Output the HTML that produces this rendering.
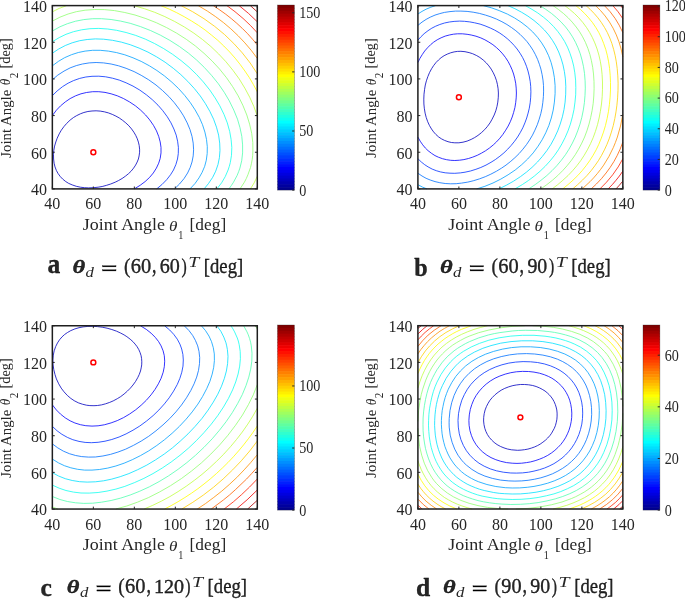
<!DOCTYPE html>
<html><head><meta charset="utf-8"><style>
html,body{margin:0;padding:0;background:#fff;}
body{width:685px;height:602px;overflow:hidden;}
svg{display:block;will-change:transform;}
text{font-family:"Liberation Serif",serif;fill:#262626;}
</style></head><body>
<svg width="685" height="602" viewBox="0 0 685 602">
<rect width="685" height="602" fill="#fff"/>
<g fill="none" stroke-width="0.8" stroke-linejoin="round"><path d="M84.5 187.7l-4.1-0.5 -4.1-0.9 -4.1-1.4 -3.5-1.5 -2.9-1.8 -3.1-2.5 -2.3-2.4 -2.3-3.1 -1.7-3.1 -1.4-3.6 -0.9-3.7 -0.5-4.2 -0.1-4.3 0.3-4.3 0.8-4.3 1.2-4.1 1.4-3.8 2-4.3 2.1-3.7 2.7-3.7 2.7-3.1 3.4-3.3 3.4-2.6 3.2-1.9 3.7-1.8 3.5-1.3 4-1 4.1-0.5 4.1-0.2 4.1 0.3 4.1 0.7 4.1 1.1 3.9 1.5 3.6 1.7 3.4 1.9 3.4 2.4 3.1 2.5 3.1 2.9 2.7 3.2 2.2 3.1 1.9 3.2 1.6 3.5 1.1 3.3 0.8 3.4 0.4 3.7 0 3 -0.5 3.7 -0.7 3.1 -1.2 3 -1.6 3.1 -2 3 -2.5 3.1 -2.5 2.4 -3.2 2.6 -3.3 2.3 -3.5 2 -3.4 1.7 -4.5 1.8 -4.4 1.4 -4.1 1.1 -4.1 0.7 -4.8 0.5 -4.7 0.2 -4.1-0.2" stroke="#0000bf"/>
<path d="M52.4 115.5l4-5.3 4.1-4.3 4.8-4 4.8-3.3 5.5-2.8 5.4-2 5.5-1.3 6.2-0.8 6.1 0 6.2 0.7 6.1 1.4 6.2 2 6.1 2.7 6.1 3.4 5.9 3.9 5.2 4.3 5 4.9 4.1 4.9 3.8 5.5 3 5.5 2.2 5.5 1.5 5.5 0.8 5.5 0 5.5 -0.8 5.5 -1.5 4.8 -2.3 4.9 -3.1 4.9 -3.6 4.3 -4.6 4.3 -4.8 3.6 -5.9 3.7" stroke="#0000ff"/>
<path d="M52.4 95.6l4.7-4.6 5.5-4.4 5.5-3.4 5.4-2.6 6.2-2.2 6.1-1.4 6.2-0.7 6.8-0.1 6.8 0.6 6.9 1.4 6.8 1.9 6.8 2.7 6.9 3.3 6.8 4 6.6 4.7 5.9 4.9 5.7 5.5 4.8 5.5 4.5 6.1 3.7 6.1 2.9 6.1 2.3 6.1 1.4 6.1 0.8 6.2 -0.1 6.1 -0.8 5.5 -1.6 5.5 -2.4 5.5 -3 4.8 -3.8 4.9 -4.8 4.9 -5.2 4.3" stroke="#0030ff"/>
<path d="M52.4 79.7l5.4-4.6 6.2-4 6.1-3.2 6.2-2.3 6.1-1.6 6.8-1.1 6.9-0.4 7.5 0.4 7.5 1.1 7.5 1.8 7.5 2.5 8 3.3 7.1 3.7 7.5 4.5 7.3 5.2 6.5 5.5 6.4 6.1 5.4 6.1 5.1 6.7 4.1 6.4 3.7 7.1 2.8 6.7 2 6.8 1.2 6.7 0.4 6.7 -0.4 6.1 -1.2 6.1 -1.8 5.5 -2.6 5.5 -3.5 5.5 -4.6 5.5 -5 4.9" stroke="#0070ff"/>
<path d="M52.4 65.8l6.1-4.5 6.1-3.6 6.9-3 6.8-2.2 6.8-1.4 7.6-0.8 7.5 0 8.2 0.8 8.2 1.5 8.2 2.2 8.2 3 8.2 3.6 8.2 4.4 7.5 4.7 7.5 5.4 7.5 6.3 6.8 6.5 6 6.7 5.6 7.2 4.8 7.3 4.2 7.5 3.2 7.3 2.4 7.4 1.6 7.3 0.8 7.3 -0.1 6.8 -0.9 6.7 -1.6 6.1 -2.6 6.1 -3.1 5.5 -3.9 5.5 -5.1 5.5" stroke="#009fff"/>
<path d="M52.4 53.2l6.1-4.1 6.8-3.6 6.9-2.7 7.5-2.1 7.5-1.2 8.2-0.6 8.2 0.3 8.9 1.1 8.8 1.8 8.9 2.6 8.9 3.4 8.9 4 8.7 4.8 8.4 5.3 8.2 6.1 7.5 6.3 7 6.8 6.6 7.2 5.9 7.4 5.1 7.6 4.4 7.7 3.8 7.9 2.9 8 2.1 7.9 1.1 8 0.3 7.3 -0.6 7.3 -1.4 6.8 -2.3 6.7 -3 6.1 -4.1 6.1 -4.5 5.5" stroke="#00dfff"/>
<path d="M52.4 41.7l6.8-4.1 6.8-3.3 7.5-2.6 8.2-1.9 8.2-1.1 8.9-0.3 8.9 0.6 8.9 1.3 9.5 2.2 9.6 2.9 9.6 3.7 9.2 4.4 9.2 5.1 8.9 5.7 8.5 6.3 7.9 6.6 7.5 7.2 6.8 7.5 6.4 8 5.4 8 4.7 7.9 4.2 8.6 3.3 8.5 2.4 8.6 1.4 7.9 0.7 8 -0.3 7.9 -1.2 7.3 -1 3.7 -1.2 3.7 -2.9 6.7 -3.6 6.1 -4.7 6.1" stroke="#10ffef"/>
<path d="M52.4 31.0l7.5-4.2 7.5-3.1 8.2-2.5 8.2-1.6 8.9-0.9 8.8 0 9.6 0.8 9.6 1.6 9.5 2.2 10.3 3.3 10.2 4 9.6 4.5 9.6 5.3 9.5 6.1 8.9 6.5 8.3 7 7.6 7.3 7.3 8 6.9 8.5 5.9 8.6 5 8.5 4.5 9.2 3.7 9.1 2.5 8.6 1.8 8.6 0.8 8.5 0 8 -0.9 7.9 -1.8 7.3 -1.3 3.7 -1.5 3.7 -3.6 6.7 -2.2 3.4 -2.4 3.3" stroke="#50ffaf"/>
<path d="M52.4 21.1l7.5-3.9 8.2-3.2 8.2-2.3 8.8-1.5 9.6-0.7 9.6 0.1 10.2 1 10.3 1.9 10.2 2.5 10.9 3.6 10.4 4.1 10.3 4.9 10.1 5.6 9.6 6.1 9 6.6 8.7 7.4 8.2 7.8 7.4 8 6.9 8.6 6.2 9 5.5 9.2 4.6 9.3 4 9.8 2.8 9.1 2.1 9.2 1.1 9.2 0.1 8.5 -0.2 4.3 -0.5 4.3 -0.8 4.2 -0.9 3.7 -2.6 7.3 -1.6 3.7 -1.9 3.7 -4.4 6.7" stroke="#8fff70"/>
<path d="M257.3 176.2l-3.1 6.6 -3.8 6.1M52.4 11.8l6.8-3.4 7.4-2.8M133.8 5.6l10.6 3.1 10.3 3.6 10.1 4.3 9.9 4.9 9.7 5.5 9.4 6.1 8.8 6.5 8.3 6.9 7.7 7.4 7.4 7.9 7 8.6 6.2 8.5 5.6 9.2 4.9 9.1 4.2 9.4 3.4 9.4" stroke="#bfff40"/>
<path d="M160.8 5.6l8.4 3.5 7.5 3.6 7.5 4 7.2 4.2 7.1 4.5 6.6 4.6 6.4 5.1 6.4 5.3 5.9 5.6 5.9 6 5.4 6.1 5.1 6.4 4.7 6.5 4.5 6.7 3.9 6.7 4 7.5" stroke="#ffff00"/>
<path d="M181.1 5.6l11.5 6.1 11.4 7 10.7 7.7 9.8 8.1 9.3 9 8.5 9.4 7.9 10.1 7.1 10.8" stroke="#ffcf00"/>
<path d="M198.2 5.6l9.2 5.5 8.1 5.5 8.1 6.1 7.2 6.1 7.4 7 6.7 7.1 6.3 7.4 6.1 8.1" stroke="#ff8f00"/>
<path d="M213.3 5.6l6.4 4.3 6 4.3 5.6 4.4 5.5 4.7 5.5 5.1 5.3 5.3 4.9 5.5 4.8 5.7" stroke="#ff6000"/>
<path d="M226.9 5.6l8.1 6.1 8 6.7 7.5 7.1 6.8 7.3" stroke="#ff2000"/>
<path d="M239.1 5.6l9.3 7.7 8.9 8.5" stroke="#ef0000"/>
<path d="M250.3 5.6l7 6.3" stroke="#af0000"/></g>
<circle cx="93.34" cy="152.24" r="2.45" fill="none" stroke="#ff0000" stroke-width="1.5"/>
<g stroke="#262626" stroke-width="1.0"><line x1="52.35" y1="188.90" x2="52.35" y2="186.50"/>
<line x1="52.35" y1="5.60" x2="52.35" y2="8.00"/>
<line x1="52.35" y1="188.90" x2="54.75" y2="188.90"/>
<line x1="257.30" y1="188.90" x2="254.90" y2="188.90"/>
<line x1="93.34" y1="188.90" x2="93.34" y2="186.50"/>
<line x1="93.34" y1="5.60" x2="93.34" y2="8.00"/>
<line x1="52.35" y1="152.24" x2="54.75" y2="152.24"/>
<line x1="257.30" y1="152.24" x2="254.90" y2="152.24"/>
<line x1="134.33" y1="188.90" x2="134.33" y2="186.50"/>
<line x1="134.33" y1="5.60" x2="134.33" y2="8.00"/>
<line x1="52.35" y1="115.58" x2="54.75" y2="115.58"/>
<line x1="257.30" y1="115.58" x2="254.90" y2="115.58"/>
<line x1="175.32" y1="188.90" x2="175.32" y2="186.50"/>
<line x1="175.32" y1="5.60" x2="175.32" y2="8.00"/>
<line x1="52.35" y1="78.92" x2="54.75" y2="78.92"/>
<line x1="257.30" y1="78.92" x2="254.90" y2="78.92"/>
<line x1="216.31" y1="188.90" x2="216.31" y2="186.50"/>
<line x1="216.31" y1="5.60" x2="216.31" y2="8.00"/>
<line x1="52.35" y1="42.26" x2="54.75" y2="42.26"/>
<line x1="257.30" y1="42.26" x2="254.90" y2="42.26"/>
<line x1="257.30" y1="188.90" x2="257.30" y2="186.50"/>
<line x1="257.30" y1="5.60" x2="257.30" y2="8.00"/>
<line x1="52.35" y1="5.60" x2="54.75" y2="5.60"/>
<line x1="257.30" y1="5.60" x2="254.90" y2="5.60"/>
<rect x="52.35" y="5.60" width="204.95" height="183.30" fill="none" stroke-width="1.5" stroke="#1e1e1e"/></g>
<g fill="#262626"><text x="52.35" y="209.40" font-size="16.00" text-anchor="middle" >40</text>
<text x="46.95" y="195.20" font-size="16.00" text-anchor="end" >40</text>
<text x="93.34" y="209.40" font-size="16.00" text-anchor="middle" >60</text>
<text x="46.95" y="158.54" font-size="16.00" text-anchor="end" >60</text>
<text x="134.33" y="209.40" font-size="16.00" text-anchor="middle" >80</text>
<text x="46.95" y="121.88" font-size="16.00" text-anchor="end" >80</text>
<text x="175.32" y="209.40" font-size="16.00" text-anchor="middle" >100</text>
<text x="46.95" y="85.22" font-size="16.00" text-anchor="end" >100</text>
<text x="216.31" y="209.40" font-size="16.00" text-anchor="middle" >120</text>
<text x="46.95" y="48.56" font-size="16.00" text-anchor="end" >120</text>
<text x="257.30" y="209.40" font-size="16.00" text-anchor="middle" >140</text>
<text x="46.95" y="11.90" font-size="16.00" text-anchor="end" >140</text></g>
<g fill="#262626"><rect x="277.50" y="5.000" width="16.90" height="3.492" fill="#800000"/>
<rect x="277.50" y="7.892" width="16.90" height="3.492" fill="#8f0000"/>
<rect x="277.50" y="10.784" width="16.90" height="3.492" fill="#9f0000"/>
<rect x="277.50" y="13.677" width="16.90" height="3.492" fill="#af0000"/>
<rect x="277.50" y="16.569" width="16.90" height="3.492" fill="#bf0000"/>
<rect x="277.50" y="19.461" width="16.90" height="3.492" fill="#cf0000"/>
<rect x="277.50" y="22.353" width="16.90" height="3.492" fill="#df0000"/>
<rect x="277.50" y="25.245" width="16.90" height="3.492" fill="#ef0000"/>
<rect x="277.50" y="28.137" width="16.90" height="3.492" fill="#ff0000"/>
<rect x="277.50" y="31.030" width="16.90" height="3.492" fill="#ff1000"/>
<rect x="277.50" y="33.922" width="16.90" height="3.492" fill="#ff2000"/>
<rect x="277.50" y="36.814" width="16.90" height="3.492" fill="#ff3000"/>
<rect x="277.50" y="39.706" width="16.90" height="3.492" fill="#ff4000"/>
<rect x="277.50" y="42.598" width="16.90" height="3.492" fill="#ff5000"/>
<rect x="277.50" y="45.491" width="16.90" height="3.492" fill="#ff6000"/>
<rect x="277.50" y="48.383" width="16.90" height="3.492" fill="#ff7000"/>
<rect x="277.50" y="51.275" width="16.90" height="3.492" fill="#ff8000"/>
<rect x="277.50" y="54.167" width="16.90" height="3.492" fill="#ff8f00"/>
<rect x="277.50" y="57.059" width="16.90" height="3.492" fill="#ff9f00"/>
<rect x="277.50" y="59.952" width="16.90" height="3.492" fill="#ffaf00"/>
<rect x="277.50" y="62.844" width="16.90" height="3.492" fill="#ffbf00"/>
<rect x="277.50" y="65.736" width="16.90" height="3.492" fill="#ffcf00"/>
<rect x="277.50" y="68.628" width="16.90" height="3.492" fill="#ffdf00"/>
<rect x="277.50" y="71.520" width="16.90" height="3.492" fill="#ffef00"/>
<rect x="277.50" y="74.412" width="16.90" height="3.492" fill="#ffff00"/>
<rect x="277.50" y="77.305" width="16.90" height="3.492" fill="#efff10"/>
<rect x="277.50" y="80.197" width="16.90" height="3.492" fill="#dfff20"/>
<rect x="277.50" y="83.089" width="16.90" height="3.492" fill="#cfff30"/>
<rect x="277.50" y="85.981" width="16.90" height="3.492" fill="#bfff40"/>
<rect x="277.50" y="88.873" width="16.90" height="3.492" fill="#afff50"/>
<rect x="277.50" y="91.766" width="16.90" height="3.492" fill="#9fff60"/>
<rect x="277.50" y="94.658" width="16.90" height="3.492" fill="#8fff70"/>
<rect x="277.50" y="97.550" width="16.90" height="3.492" fill="#80ff80"/>
<rect x="277.50" y="100.442" width="16.90" height="3.492" fill="#70ff8f"/>
<rect x="277.50" y="103.334" width="16.90" height="3.492" fill="#60ff9f"/>
<rect x="277.50" y="106.227" width="16.90" height="3.492" fill="#50ffaf"/>
<rect x="277.50" y="109.119" width="16.90" height="3.492" fill="#40ffbf"/>
<rect x="277.50" y="112.011" width="16.90" height="3.492" fill="#30ffcf"/>
<rect x="277.50" y="114.903" width="16.90" height="3.492" fill="#20ffdf"/>
<rect x="277.50" y="117.795" width="16.90" height="3.492" fill="#10ffef"/>
<rect x="277.50" y="120.688" width="16.90" height="3.492" fill="#00ffff"/>
<rect x="277.50" y="123.580" width="16.90" height="3.492" fill="#00efff"/>
<rect x="277.50" y="126.472" width="16.90" height="3.492" fill="#00dfff"/>
<rect x="277.50" y="129.364" width="16.90" height="3.492" fill="#00cfff"/>
<rect x="277.50" y="132.256" width="16.90" height="3.492" fill="#00bfff"/>
<rect x="277.50" y="135.148" width="16.90" height="3.492" fill="#00afff"/>
<rect x="277.50" y="138.041" width="16.90" height="3.492" fill="#009fff"/>
<rect x="277.50" y="140.933" width="16.90" height="3.492" fill="#008fff"/>
<rect x="277.50" y="143.825" width="16.90" height="3.492" fill="#0080ff"/>
<rect x="277.50" y="146.717" width="16.90" height="3.492" fill="#0070ff"/>
<rect x="277.50" y="149.609" width="16.90" height="3.492" fill="#0060ff"/>
<rect x="277.50" y="152.502" width="16.90" height="3.492" fill="#0050ff"/>
<rect x="277.50" y="155.394" width="16.90" height="3.492" fill="#0040ff"/>
<rect x="277.50" y="158.286" width="16.90" height="3.492" fill="#0030ff"/>
<rect x="277.50" y="161.178" width="16.90" height="3.492" fill="#0020ff"/>
<rect x="277.50" y="164.070" width="16.90" height="3.492" fill="#0010ff"/>
<rect x="277.50" y="166.963" width="16.90" height="3.492" fill="#0000ff"/>
<rect x="277.50" y="169.855" width="16.90" height="3.492" fill="#0000ef"/>
<rect x="277.50" y="172.747" width="16.90" height="3.492" fill="#0000df"/>
<rect x="277.50" y="175.639" width="16.90" height="3.492" fill="#0000cf"/>
<rect x="277.50" y="178.531" width="16.90" height="3.492" fill="#0000bf"/>
<rect x="277.50" y="181.423" width="16.90" height="3.492" fill="#0000af"/>
<rect x="277.50" y="184.316" width="16.90" height="3.492" fill="#00009f"/>
<rect x="277.50" y="187.208" width="16.90" height="2.892" fill="#00008f"/>
<rect x="277.50" y="5.00" width="16.90" height="185.10" fill="none" stroke="#262626" stroke-width="0.5" stroke-opacity="0.6"/>
<line x1="294.40" y1="190.10" x2="292.20" y2="190.10" stroke="#262626" stroke-width="1"/>
<text transform="translate(299.20,195.50) scale(0.9,1)" font-size="15.7">0</text>
<line x1="294.40" y1="131.00" x2="292.20" y2="131.00" stroke="#262626" stroke-width="1"/>
<text transform="translate(299.20,136.40) scale(0.9,1)" font-size="15.7">50</text>
<line x1="294.40" y1="71.90" x2="292.20" y2="71.90" stroke="#262626" stroke-width="1"/>
<text transform="translate(299.20,77.30) scale(0.9,1)" font-size="15.7">100</text>
<line x1="294.40" y1="12.80" x2="292.20" y2="12.80" stroke="#262626" stroke-width="1"/>
<text transform="translate(299.20,18.20) scale(0.9,1)" font-size="15.7">150</text></g>
<g fill="none" stroke-width="0.8" stroke-linejoin="round"><path d="M451.4 142.5l-3.4-0.8 -3.5-1.3 -3.1-1.6 -2.7-1.8 -2.8-2.5 -2.3-2.6 -2.1-2.9 -2.1-3.6 -1.7-3.7 -1.5-4.3 -1.1-4.3 -0.8-4.9 -0.4-4.2 -0.1-4.9 0.2-4.9 0.6-4.9 0.7-4.3 1.1-4.2 1.5-4.3 1.6-3.9 2.1-3.9 2-3.1 2.5-3.2 2.4-2.4 2.6-2.3 3-2 3.2-1.6 3.4-1.3 3.4-0.9 3.4-0.5 3.4-0.1 4.1 0.4 4.1 0.9 3.5 1.1 4.1 1.9 3.2 1.9 3.3 2.5 3 2.8 2.7 3.1 2.3 3.2 2.1 3.7 1.7 3.7 1.5 4.2 0.9 3.7 0.7 4.3 0.3 4.3 -0.1 4.2 -0.5 4.9 -0.8 4.3 -1.2 4.4 -1.6 4.2 -2.1 4.2 -2.1 3.7 -2.7 3.7 -2.6 3 -3.3 3.1 -3.4 2.7 -3.4 2.2 -3.4 1.8 -4.1 1.7 -4.1 1.1 -4.1 0.6 -4.1 0 -3.4-0.3" stroke="#0000bf"/>
<path d="M417.9 62.5l2-4.1 2.4-3.9 2.4-3.5 2.8-3.2 3.1-3.1 3-2.5 3.6-2.4 3.9-2 4.1-1.7 4.1-1.1 4.1-0.8 4.1-0.4 4.8 0 4.8 0.5 4.1 0.7 4.8 1.2 4.8 1.7 4.1 1.9 4 2.3 4 2.6 3.6 2.9 3.4 3.2 2.8 3.1 2.8 3.6 2.6 4 2.1 4 1.9 4.3 1.5 4.2 1.1 4.3 1 4.9 0.5 4.9 0.2 4.9 -0.2 4.9 -0.5 4.8 -0.8 4.9 -1.3 4.9 -1.4 4.5 -1.9 4.7 -2.1 4.3 -2.5 4.2 -2.9 4.3 -2.9 3.7 -3.4 3.7 -3.2 3 -3.8 3.1 -4 2.8 -4.1 2.4 -4.1 2.1 -4.5 1.8 -4.3 1.4 -4.6 1.1 -4.3 0.6 -4.8 0.3 -4.1-0.2 -4.1-0.6 -4.1-1 -4.1-1.5 -3.4-1.6 -3.4-2.2 -3.5-2.7 -2.7-2.6 -2.7-3.3 -2.5-3.6 -2.3-4.1" stroke="#0000ff"/>
<path d="M417.9 40.2l3-3.4 3.2-3.1 3.9-3 3.8-2.5 3.9-2 4.1-1.7 4.7-1.5 4.8-1 4.8-0.6 5.5-0.3 4.8 0.2 5.4 0.6 4.8 0.9 5.5 1.3 4.9 1.7 5.3 2.2 4.2 2 4.7 2.7 4.1 2.8 3.9 3.1 3.6 3.3 3.4 3.6 2.9 3.5 3 4.3 2.5 4.2 2.1 4.3 1.8 4.5 1.5 4.7 1.2 4.9 1 5.5 0.5 4.9 0.2 5.5 -0.2 5.4 -0.5 5.5 -0.9 5.5 -1.2 4.9 -1.4 4.9 -1.8 4.9 -2.1 4.9 -2.6 4.9 -2.6 4.3 -3 4.2 -3.5 4.3 -3.4 3.7 -3.8 3.7 -4 3.3 -4.6 3.4 -4.3 2.7 -5 2.8 -5.2 2.4 -4.9 1.8 -5.4 1.7 -5.5 1.2 -4.7 0.7 -5.5 0.4 -4.8-0.1 -4.8-0.4 -4.8-0.9 -4.1-1.2 -4.1-1.6 -4.1-2.2 -3.4-2.2 -3.4-2.7 -3.4-3.3" stroke="#0030ff"/>
<path d="M417.9 25.4l4.1-3.3 4.1-2.7 4.1-2.2 4.8-2.1 4.8-1.5 4.7-1.2 5.5-0.8 5.5-0.5 5.4 0 6.2 0.3 6.1 0.8 6.2 1.2 6.1 1.7 5.5 1.8 5.5 2.2 5.4 2.6 5 2.8 4.7 3.1 4.2 3.1 4.2 3.6 3.7 3.7 3.3 3.6 3.2 4.3 2.8 4.3 2.4 4.4 2.2 4.8 1.8 4.9 1.5 4.8 1.2 5.5 0.9 5.5 0.5 5.5 0.1 5.5 -0.2 5.5 -0.6 6.1 -0.8 5.5 -1.2 5.5 -1.6 5.5 -1.9 5.5 -2.4 5.5 -2.4 4.9 -2.9 4.9 -3.1 4.6 -3.6 4.6 -3.7 4.3 -4.3 4.2 -4.1 3.6 -4.8 3.8 -4.4 3 -5.1 3.1 -5.7 3 -5.5 2.5 -5.9 2.2 -6.2 1.9 -5.4 1.3 -6.2 1 -5.4 0.6 -5.5 0.1 -5.5-0.3 -5.4-0.8 -4.8-1.1 -4.8-1.6 -4.1-1.7 -4.1-2.3 -4.1-2.8" stroke="#0070ff"/>
<path d="M426.9 188.9l-4.4-1.8 -4.6-2.4M417.9 14.0l4.1-2.6 4.1-2.2 4.8-2 4.7-1.6M483.3 5.6l8.4 2.3 7.5 2.7 8.2 3.5 6.9 3.7 6.7 4.3 6.2 4.8 5.5 5 4.9 5.5 4.1 5.5 3.7 6.1 3.2 6.7 2.5 6.8 1.9 7.3 1.4 7.9 0.7 7.9 0 8 -0.7 8.5 -1.2 8 -1.9 7.9 -2.4 7.4 -3.1 7.3 -3.6 7 -4.1 6.5 -4.9 6.7 -5.5 6.1 -6 5.7 -6.5 5.3 -7.1 4.8 -7.3 4.3 -7.8 3.9 -8.1 3.3 -8.2 2.6" stroke="#009fff"/>
<path d="M508.0 5.6l6.9 3.1 6.8 3.6 6.2 3.8 6.1 4.4 5.5 4.7 4.9 4.8 4.2 4.9 3.9 5.5 3.3 5.5 2.9 6.1 2.3 6.1 2 6.8 1.4 6.7 1 7.3 0.4 7.4 -0.1 7.9 -0.6 7.9 -1.1 7.4 -1.6 7.3 -2.2 7.3 -2.5 6.8 -3.2 6.9 -3.5 6.5 -4 6.1 -4.7 6.1 -4.8 5.5 -5.5 5.4 -5.5 4.7 -6.1 4.6 -6.9 4.5 -7.1 4 -7.4 3.7" stroke="#00dfff"/>
<path d="M525.3 5.6l6.6 3.7 5.8 3.6 5.8 4.3 5.1 4.3 4.9 4.9 4.2 4.9 3.6 4.9 3.4 5.4 2.8 5.5 2.5 6.2 2 6.1 1.7 6.7 1.1 6.7 0.8 7.3 0.2 7.4 -0.1 7.3 -0.7 7.3 -1 7.4 -1.6 7.3 -2 7.3 -2.4 6.8 -2.9 6.7 -3.1 6.1 -3.6 6.1 -3.8 5.5 -4.4 5.5 -5 5.5 -5.1 4.9 -5.8 4.9 -5.7 4.3 -6.3 4.2 -7.3 4.3" stroke="#10ffef"/>
<path d="M539.9 5.6l5.8 3.7 5.9 4.2 5.1 4.3 4.5 4.3 4.4 4.9 3.7 4.9 3.2 4.9 3 5.5 2.5 5.5 2.3 6.1 1.7 6.1 1.5 6.7 1 6.7 0.6 7.4 0.2 7.3 -0.3 7.3 -0.6 7.3 -1.1 7.4 -1.5 7.3 -1.8 6.7 -2.3 6.8 -2.4 6.1 -2.9 6.1 -3.4 6.1 -3.5 5.5 -4.1 5.5 -4.6 5.5 -4.7 4.9 -5.2 4.9 -5.9 4.8 -5.8 4.3 -6.5 4.3" stroke="#50ffaf"/>
<path d="M553.0 5.6l5.2 3.7 5.3 4.2 4.7 4.3 4 4.3 4 4.9 3.5 4.9 2.9 4.9 2.8 5.5 2.5 6.1 2 6.1 1.5 6.1 1.3 6.7 0.8 6.7 0.5 7.4 0.1 7.3 -0.3 7.3 -0.6 7.4 -1.1 7.2 -1.4 6.8 -1.7 6.7 -2.1 6.8 -2.3 6.1 -2.8 6.1 -3.2 6.1 -3.3 5.5 -3.8 5.5 -4.4 5.5 -4.4 4.9 -4.9 4.9 -5.3 4.7 -5.6 4.4 -6 4.3" stroke="#8fff70"/>
<path d="M564.8 5.6l4.8 3.7 4.9 4.2 4.3 4.3 4.2 4.9 3.6 4.9 3.1 4.9 2.6 4.9 2.5 5.5 2.3 6.1 1.8 6.1 1.4 6.1 1.1 6.7 0.7 6.7 0.4 7.4 0 7.3 -0.3 7.3 -0.7 7.4 -1.1 7.3 -1.3 6.7 -1.6 6.7 -2.1 6.8 -2.2 6.1 -2.7 6.1 -3.1 6.1 -3.2 5.5 -3.6 5.5 -3.7 4.9 -4.2 4.9 -4.6 4.9 -5.3 4.8 -5 4.3 -5.6 4.3" stroke="#bfff40"/>
<path d="M575.8 5.6l4.7 3.9 4.2 4 4 4.4 3.9 4.8 3.3 4.9 2.9 4.9 2.7 5.5 2.2 5.5 2.1 6.1 1.6 6.1 1.2 6.1 1 6.7 0.6 6.8 0.3 7.3 0 7.3 -0.4 7.3 -0.7 7.4 -0.9 6.7 -1.4 7.3 -1.6 6.8 -2 6.7 -2.2 6.1 -2.5 6.1 -2.6 5.5 -3.1 5.5 -3.5 5.5 -3.5 4.9 -3.9 4.9 -4.4 4.9 -4.8 4.7 -5 4.4 -5.3 4.3" stroke="#ffff00"/>
<path d="M586.0 5.6l4.1 3.7 4.1 4.2 3.7 4.3 3.6 4.9 3.1 4.9 2.7 4.9 2.5 5.5 2.1 5.5 1.8 6.1 1.5 6.1 1.1 6.1 0.9 6.7 0.6 7.4 0.3 7.3 -0.1 7.3 -0.4 7.4 -0.7 7.3 -0.9 6.7 -1.2 6.7 -1.5 6.8 -1.9 6.7 -2 6.1 -2.4 6.1 -2.6 5.6 -2.8 5.4 -3.3 5.5 -3.4 4.9 -3.7 4.9 -4.2 4.9 -4.5 4.6 -4.8 4.5 -5 4.3" stroke="#ffcf00"/>
<path d="M622.8 114.6l-2.3 11.4 -3.1 11 -2 5.5 -2 4.9 -4.5 9.1 -5.2 8.6 -3 4.2 -3.4 4.3 -3.7 4.3 -3.5 3.7 -7.9 7.3M595.5 5.6l5 4.9 4.7 5.5 4.3 6.1 3.6 6.1 3.2 6.7 2.6 6.7 2.2 7.4 1.7 7.9" stroke="#ff8f00"/>
<path d="M622.8 142.2l-2.7 7 -2.8 6.1 -3.3 6.1 -3.9 6.1 -4 5.5 -4.5 5.5 -5.2 5.5 -5.2 4.9M604.4 5.6l5.7 6.1 5 6.7 4.1 6.8 3.6 7.4" stroke="#ff6000"/>
<path d="M622.8 158.8l-4.6 8.1 -5.5 7.9 -6.2 7.4 -6.6 6.7M612.8 5.6l5.3 6.2 4.7 6.8" stroke="#ff2000"/>
<path d="M622.8 171.1l-3.4 4.9 -3.4 4.3 -3.7 4.3 -4.2 4.3M620.6 5.6l2.2 2.7" stroke="#ef0000"/>
<path d="M622.8 181.1l-3.4 4.1 -3.4 3.7" stroke="#af0000"/></g>
<circle cx="458.89" cy="97.25" r="2.45" fill="none" stroke="#ff0000" stroke-width="1.5"/>
<g stroke="#262626" stroke-width="1.0"><line x1="417.90" y1="188.90" x2="417.90" y2="186.50"/>
<line x1="417.90" y1="5.60" x2="417.90" y2="8.00"/>
<line x1="417.90" y1="188.90" x2="420.30" y2="188.90"/>
<line x1="622.85" y1="188.90" x2="620.45" y2="188.90"/>
<line x1="458.89" y1="188.90" x2="458.89" y2="186.50"/>
<line x1="458.89" y1="5.60" x2="458.89" y2="8.00"/>
<line x1="417.90" y1="152.24" x2="420.30" y2="152.24"/>
<line x1="622.85" y1="152.24" x2="620.45" y2="152.24"/>
<line x1="499.88" y1="188.90" x2="499.88" y2="186.50"/>
<line x1="499.88" y1="5.60" x2="499.88" y2="8.00"/>
<line x1="417.90" y1="115.58" x2="420.30" y2="115.58"/>
<line x1="622.85" y1="115.58" x2="620.45" y2="115.58"/>
<line x1="540.87" y1="188.90" x2="540.87" y2="186.50"/>
<line x1="540.87" y1="5.60" x2="540.87" y2="8.00"/>
<line x1="417.90" y1="78.92" x2="420.30" y2="78.92"/>
<line x1="622.85" y1="78.92" x2="620.45" y2="78.92"/>
<line x1="581.86" y1="188.90" x2="581.86" y2="186.50"/>
<line x1="581.86" y1="5.60" x2="581.86" y2="8.00"/>
<line x1="417.90" y1="42.26" x2="420.30" y2="42.26"/>
<line x1="622.85" y1="42.26" x2="620.45" y2="42.26"/>
<line x1="622.85" y1="188.90" x2="622.85" y2="186.50"/>
<line x1="622.85" y1="5.60" x2="622.85" y2="8.00"/>
<line x1="417.90" y1="5.60" x2="420.30" y2="5.60"/>
<line x1="622.85" y1="5.60" x2="620.45" y2="5.60"/>
<rect x="417.90" y="5.60" width="204.95" height="183.30" fill="none" stroke-width="1.5" stroke="#1e1e1e"/></g>
<g fill="#262626"><text x="417.90" y="209.40" font-size="16.00" text-anchor="middle" >40</text>
<text x="412.50" y="195.20" font-size="16.00" text-anchor="end" >40</text>
<text x="458.89" y="209.40" font-size="16.00" text-anchor="middle" >60</text>
<text x="412.50" y="158.54" font-size="16.00" text-anchor="end" >60</text>
<text x="499.88" y="209.40" font-size="16.00" text-anchor="middle" >80</text>
<text x="412.50" y="121.88" font-size="16.00" text-anchor="end" >80</text>
<text x="540.87" y="209.40" font-size="16.00" text-anchor="middle" >100</text>
<text x="412.50" y="85.22" font-size="16.00" text-anchor="end" >100</text>
<text x="581.86" y="209.40" font-size="16.00" text-anchor="middle" >120</text>
<text x="412.50" y="48.56" font-size="16.00" text-anchor="end" >120</text>
<text x="622.85" y="209.40" font-size="16.00" text-anchor="middle" >140</text>
<text x="412.50" y="11.90" font-size="16.00" text-anchor="end" >140</text></g>
<g fill="#262626"><rect x="643.00" y="5.000" width="16.90" height="3.492" fill="#800000"/>
<rect x="643.00" y="7.892" width="16.90" height="3.492" fill="#8f0000"/>
<rect x="643.00" y="10.784" width="16.90" height="3.492" fill="#9f0000"/>
<rect x="643.00" y="13.677" width="16.90" height="3.492" fill="#af0000"/>
<rect x="643.00" y="16.569" width="16.90" height="3.492" fill="#bf0000"/>
<rect x="643.00" y="19.461" width="16.90" height="3.492" fill="#cf0000"/>
<rect x="643.00" y="22.353" width="16.90" height="3.492" fill="#df0000"/>
<rect x="643.00" y="25.245" width="16.90" height="3.492" fill="#ef0000"/>
<rect x="643.00" y="28.137" width="16.90" height="3.492" fill="#ff0000"/>
<rect x="643.00" y="31.030" width="16.90" height="3.492" fill="#ff1000"/>
<rect x="643.00" y="33.922" width="16.90" height="3.492" fill="#ff2000"/>
<rect x="643.00" y="36.814" width="16.90" height="3.492" fill="#ff3000"/>
<rect x="643.00" y="39.706" width="16.90" height="3.492" fill="#ff4000"/>
<rect x="643.00" y="42.598" width="16.90" height="3.492" fill="#ff5000"/>
<rect x="643.00" y="45.491" width="16.90" height="3.492" fill="#ff6000"/>
<rect x="643.00" y="48.383" width="16.90" height="3.492" fill="#ff7000"/>
<rect x="643.00" y="51.275" width="16.90" height="3.492" fill="#ff8000"/>
<rect x="643.00" y="54.167" width="16.90" height="3.492" fill="#ff8f00"/>
<rect x="643.00" y="57.059" width="16.90" height="3.492" fill="#ff9f00"/>
<rect x="643.00" y="59.952" width="16.90" height="3.492" fill="#ffaf00"/>
<rect x="643.00" y="62.844" width="16.90" height="3.492" fill="#ffbf00"/>
<rect x="643.00" y="65.736" width="16.90" height="3.492" fill="#ffcf00"/>
<rect x="643.00" y="68.628" width="16.90" height="3.492" fill="#ffdf00"/>
<rect x="643.00" y="71.520" width="16.90" height="3.492" fill="#ffef00"/>
<rect x="643.00" y="74.412" width="16.90" height="3.492" fill="#ffff00"/>
<rect x="643.00" y="77.305" width="16.90" height="3.492" fill="#efff10"/>
<rect x="643.00" y="80.197" width="16.90" height="3.492" fill="#dfff20"/>
<rect x="643.00" y="83.089" width="16.90" height="3.492" fill="#cfff30"/>
<rect x="643.00" y="85.981" width="16.90" height="3.492" fill="#bfff40"/>
<rect x="643.00" y="88.873" width="16.90" height="3.492" fill="#afff50"/>
<rect x="643.00" y="91.766" width="16.90" height="3.492" fill="#9fff60"/>
<rect x="643.00" y="94.658" width="16.90" height="3.492" fill="#8fff70"/>
<rect x="643.00" y="97.550" width="16.90" height="3.492" fill="#80ff80"/>
<rect x="643.00" y="100.442" width="16.90" height="3.492" fill="#70ff8f"/>
<rect x="643.00" y="103.334" width="16.90" height="3.492" fill="#60ff9f"/>
<rect x="643.00" y="106.227" width="16.90" height="3.492" fill="#50ffaf"/>
<rect x="643.00" y="109.119" width="16.90" height="3.492" fill="#40ffbf"/>
<rect x="643.00" y="112.011" width="16.90" height="3.492" fill="#30ffcf"/>
<rect x="643.00" y="114.903" width="16.90" height="3.492" fill="#20ffdf"/>
<rect x="643.00" y="117.795" width="16.90" height="3.492" fill="#10ffef"/>
<rect x="643.00" y="120.688" width="16.90" height="3.492" fill="#00ffff"/>
<rect x="643.00" y="123.580" width="16.90" height="3.492" fill="#00efff"/>
<rect x="643.00" y="126.472" width="16.90" height="3.492" fill="#00dfff"/>
<rect x="643.00" y="129.364" width="16.90" height="3.492" fill="#00cfff"/>
<rect x="643.00" y="132.256" width="16.90" height="3.492" fill="#00bfff"/>
<rect x="643.00" y="135.148" width="16.90" height="3.492" fill="#00afff"/>
<rect x="643.00" y="138.041" width="16.90" height="3.492" fill="#009fff"/>
<rect x="643.00" y="140.933" width="16.90" height="3.492" fill="#008fff"/>
<rect x="643.00" y="143.825" width="16.90" height="3.492" fill="#0080ff"/>
<rect x="643.00" y="146.717" width="16.90" height="3.492" fill="#0070ff"/>
<rect x="643.00" y="149.609" width="16.90" height="3.492" fill="#0060ff"/>
<rect x="643.00" y="152.502" width="16.90" height="3.492" fill="#0050ff"/>
<rect x="643.00" y="155.394" width="16.90" height="3.492" fill="#0040ff"/>
<rect x="643.00" y="158.286" width="16.90" height="3.492" fill="#0030ff"/>
<rect x="643.00" y="161.178" width="16.90" height="3.492" fill="#0020ff"/>
<rect x="643.00" y="164.070" width="16.90" height="3.492" fill="#0010ff"/>
<rect x="643.00" y="166.963" width="16.90" height="3.492" fill="#0000ff"/>
<rect x="643.00" y="169.855" width="16.90" height="3.492" fill="#0000ef"/>
<rect x="643.00" y="172.747" width="16.90" height="3.492" fill="#0000df"/>
<rect x="643.00" y="175.639" width="16.90" height="3.492" fill="#0000cf"/>
<rect x="643.00" y="178.531" width="16.90" height="3.492" fill="#0000bf"/>
<rect x="643.00" y="181.423" width="16.90" height="3.492" fill="#0000af"/>
<rect x="643.00" y="184.316" width="16.90" height="3.492" fill="#00009f"/>
<rect x="643.00" y="187.208" width="16.90" height="2.892" fill="#00008f"/>
<rect x="643.00" y="5.00" width="16.90" height="185.10" fill="none" stroke="#262626" stroke-width="0.5" stroke-opacity="0.6"/>
<line x1="659.90" y1="190.10" x2="657.70" y2="190.10" stroke="#262626" stroke-width="1"/>
<text transform="translate(664.70,195.50) scale(0.9,1)" font-size="15.7">0</text>
<line x1="659.90" y1="159.43" x2="657.70" y2="159.43" stroke="#262626" stroke-width="1"/>
<text transform="translate(664.70,164.83) scale(0.9,1)" font-size="15.7">20</text>
<line x1="659.90" y1="128.76" x2="657.70" y2="128.76" stroke="#262626" stroke-width="1"/>
<text transform="translate(664.70,134.16) scale(0.9,1)" font-size="15.7">40</text>
<line x1="659.90" y1="98.09" x2="657.70" y2="98.09" stroke="#262626" stroke-width="1"/>
<text transform="translate(664.70,103.49) scale(0.9,1)" font-size="15.7">60</text>
<line x1="659.90" y1="67.42" x2="657.70" y2="67.42" stroke="#262626" stroke-width="1"/>
<text transform="translate(664.70,72.82) scale(0.9,1)" font-size="15.7">80</text>
<line x1="659.90" y1="36.74" x2="657.70" y2="36.74" stroke="#262626" stroke-width="1"/>
<text transform="translate(664.70,42.14) scale(0.9,1)" font-size="15.7">100</text>
<line x1="659.90" y1="6.07" x2="657.70" y2="6.07" stroke="#262626" stroke-width="1"/>
<text transform="translate(664.70,11.47) scale(0.9,1)" font-size="15.7">120</text></g>
<g fill="none" stroke-width="0.8" stroke-linejoin="round"><path d="M86.5 405.2l-4.1-1 -4.1-1.4 -4.1-2.1 -3.4-2.3 -3.5-3 -3.3-3.6 -2.8-3.7 -2.5-4.3 -2.3-4.9 -1.4-4.3 -1.2-4.9 -0.7-4.8 -0.2-4.9 0.4-4.9 0.9-4.3 1.5-4.3 1.8-3.6 2-3.1 2.4-2.8 2.7-2.5 2.9-2 3.3-1.9 4.1-1.7 4.1-1.2 4.1-0.8 4.8-0.5 4.8-0.1 4.7 0.3 4.8 0.6 4.9 1 4.7 1.3 4.8 1.7 4.1 1.9 3.4 1.8 2.8 1.8 3.3 2.5 2.7 2.4 2.2 2.5 2 2.6 1.7 2.9 1.3 3 1 3.1 0.5 3 0.2 3.1 -0.1 3.1 -0.5 3 -0.7 3.1 -1.3 3.6 -1.5 3.1 -2.1 3.7 -2.6 3.6 -2.6 3.1 -3 3 -3.3 2.9 -3.4 2.6 -3.4 2.1 -4.1 2.2 -3.5 1.5 -4.1 1.4 -4.1 1.1 -4.1 0.6 -3.4 0.2 -4.1-0.1 -3.4-0.4" stroke="#0000bf"/>
<path d="M140.5 325.8l5.8 3.6 4.7 3.7 4.3 4.3 3.3 4.2 2.5 4.3 2 4.9 1.2 4.9 0.4 5.5 -0.4 5.5 -1.1 5.5 -2.1 6.1 -2.7 5.5 -3.3 5.5 -4 5.5 -4.8 5.5 -5.1 4.9 -5.5 4.6 -6.2 4.3 -6.1 3.6 -6.1 2.9 -6.2 2.3 -6.8 1.9 -6.2 1 -6.1 0.3 -6.2-0.4 -5.4-1 -5.5-1.7 -4.8-2.2 -4.8-2.9 -4.8-3.8 -4.1-4.1 -4-5.1" stroke="#0000ff"/>
<path d="M164.6 325.8l5.1 4.2 4 4.3 3.6 4.9 2.6 4.9 1.8 4.9 1.2 5.5 0.4 5.5 -0.3 6.1 -1.2 6.1 -1.9 6.1 -2.6 6.1 -3.7 6.7 -4.4 6.7 -4.8 6.1 -5.5 6.1 -5.8 5.6 -6.5 5.4 -6.8 5 -6.8 4.2 -6.9 3.7 -7 3.1 -7.3 2.5 -6.8 1.7 -6.9 1.1 -6.8 0.4 -6.2-0.3 -6.1-1 -6.2-1.7 -5.4-2.3 -5.5-3.1 -4.8-3.5 -4.7-4.4" stroke="#0030ff"/>
<path d="M184.3 325.8l4.7 4.8 3.7 4.9 2.7 4.9 2.3 5.5 1.3 5.5 0.7 6.1 -0.2 6.1 -1 6.8 -1.8 6.7 -2.6 6.7 -3.3 6.7 -4.3 7.3 -5 7.2 -5.6 6.9 -6.2 6.7 -6.7 6.3 -7 5.9 -7.3 5.5 -7.5 4.8 -7.6 4.2 -8 3.9 -7.7 2.9 -7.5 2.3 -7.5 1.6 -7.5 1 -6.8 0.1 -6.9-0.5 -6.1-1.1 -6.2-1.8 -6.1-2.6 -5.5-3.2 -5.4-4" stroke="#0070ff"/>
<path d="M201.4 325.8l4.1 4.8 3.5 5.5 2.5 5.5 1.8 6.1 1 6.2 0.1 6.7 -0.7 6.7 -1.5 6.8 -2.3 7.3 -3.2 7.3 -4.1 7.8 -4.7 7.6 -5.7 7.8 -6.1 7.3 -6.7 7.2 -7.3 6.9 -7.7 6.5 -7.6 5.7 -8.1 5.4 -8.2 4.7 -8.2 4.1 -8.2 3.5 -8.2 2.8 -8.2 2.1 -8.2 1.4 -7.5 0.6 -7.5 0 -6.9-0.8 -6.8-1.5 -6.4-2.1 -5.9-2.8 -6.1-3.8" stroke="#009fff"/>
<path d="M216.8 325.8l4 5.4 3 5.9 2.2 5.8 0.7 3 0.7 3.7 0.6 6.7 -0.4 7.3 -1.2 7.4 -2 7.3 -2.9 7.9 -3.7 8 -4.5 7.9 -5.2 8 -6.1 8.3 -6.9 8 -7.1 7.5 -7.8 7.3 -7.9 6.8 -8.1 6.1 -8.7 5.8 -8.7 5.2 -9.1 4.6 -8.8 3.9 -8.7 3.1 -8.4 2.4 -8.2 1.7 -8.2 1 -8.2 0.3 -7.5-0.4 -7.5-1.2 -6.9-1.8 -6.8-2.7 -6.1-3.3" stroke="#00dfff"/>
<path d="M230.9 325.8l2 3 1.7 3.1 2.7 6.1 1 3 0.9 3.7 1 6.7 0.2 7.3 -0.7 7.4 -1.6 7.9 -2.4 8 -3.1 7.9 -4.2 8.6 -4.9 8.5 -5.8 8.7 -6.4 8.4 -7.3 8.5 -7.6 8 -8.1 7.7 -8.3 7 -8.8 6.7 -8.9 6 -9.3 5.6 -9.1 4.8 -9.6 4.3 -9.5 3.7 -8.9 2.7 -8.9 2 -8.9 1.4 -8.9 0.6 -8.2-0.1 -7.5-0.9 -7.5-1.6 -6.8-2.3 -6.8-3.1" stroke="#10ffef"/>
<path d="M243.7 325.8l3.3 6.1 1.3 3 1.3 3.7 1 3.6 0.7 3.7 0.7 7.3 -0.2 8 -1.1 7.9 -1.9 8 -2.8 8.5 -3.7 9 -4.5 8.7 -5.4 9.2 -6.3 9.2 -6.6 8.5 -7.3 8.6 -8.2 8.5 -8.5 8 -8.6 7.3 -8.8 6.7 -9.6 6.6 -9.4 5.7 -9.7 5.2 -9.6 4.4 -9.6 3.8 -9.5 3.1 -9.6 2.4 -9.6 1.7 -8.8 1 -8.9 0.2 -8.2-0.6 -8.2-1.3 -7.5-2 -7.5-3" stroke="#50ffaf"/>
<path d="M57.9 509.0l-5.5-2M257.3 384.6l-4 10.2 -4.9 9.9 -5.9 10.3 -7 10.3 -7.6 10 -8.2 9.6 -8.9 9.2 -9.5 8.9 -9.6 7.9 -10.2 7.6 -11 7.2 -10.8 6.2 -11 5.6 -11 4.6 -10.9 3.9 -11 3M255.5 325.8l1.8 3.5" stroke="#8fff70"/>
<path d="M257.3 408.2l-4.5 8 -5 7.9 -5.5 7.9 -5.7 7.4 -6.1 7.3 -6.7 7.4 -7.3 7.3 -7.2 6.7 -7.3 6.3 -7.6 5.9 -8.1 5.9 -8.2 5.4 -8.2 5 -8.4 4.5 -8.7 4.2 -8.6 3.7" stroke="#bfff40"/>
<path d="M257.3 425.9l-4.1 6.2 -4.8 6.6 -4.8 6.2 -5.1 6.1 -5.1 5.8 -5.5 5.8 -5.6 5.5 -5.9 5.5 -6.2 5.4 -6.2 5 -6.1 4.7 -6.4 4.5 -6.6 4.3 -6.8 4.2 -6.9 3.9 -6.6 3.4" stroke="#ffff00"/>
<path d="M257.3 441.0l-7.6 10 -8.4 9.8 -8.7 9.1 -9.5 9.1 -9.5 8.2 -10.3 7.9 -10.5 7.2 -10.9 6.7" stroke="#ffcf00"/>
<path d="M257.3 454.7l-6.6 7.9 -6.6 7.3 -7.3 7.6 -7.5 7 -7.5 6.6 -8 6.3 -8.3 6.2 -8.2 5.4" stroke="#ff8f00"/>
<path d="M257.3 467.3l-5.5 6.1 -5.3 5.7 -11.1 10.6 -5.9 5.3 -6 4.9 -12.2 9.1" stroke="#ff6000"/>
<path d="M257.3 479.0l-7.8 8.1 -7.9 7.5 -8.2 7.2 -9.2 7.2" stroke="#ff2000"/>
<path d="M257.3 490.0l-10.2 9.8 -10.7 9.2" stroke="#ef0000"/>
<path d="M257.3 500.3l-9.6 8.7" stroke="#af0000"/></g>
<circle cx="93.34" cy="362.41" r="2.45" fill="none" stroke="#ff0000" stroke-width="1.5"/>
<g stroke="#262626" stroke-width="1.0"><line x1="52.35" y1="509.05" x2="52.35" y2="506.65"/>
<line x1="52.35" y1="325.75" x2="52.35" y2="328.15"/>
<line x1="52.35" y1="509.05" x2="54.75" y2="509.05"/>
<line x1="257.30" y1="509.05" x2="254.90" y2="509.05"/>
<line x1="93.34" y1="509.05" x2="93.34" y2="506.65"/>
<line x1="93.34" y1="325.75" x2="93.34" y2="328.15"/>
<line x1="52.35" y1="472.39" x2="54.75" y2="472.39"/>
<line x1="257.30" y1="472.39" x2="254.90" y2="472.39"/>
<line x1="134.33" y1="509.05" x2="134.33" y2="506.65"/>
<line x1="134.33" y1="325.75" x2="134.33" y2="328.15"/>
<line x1="52.35" y1="435.73" x2="54.75" y2="435.73"/>
<line x1="257.30" y1="435.73" x2="254.90" y2="435.73"/>
<line x1="175.32" y1="509.05" x2="175.32" y2="506.65"/>
<line x1="175.32" y1="325.75" x2="175.32" y2="328.15"/>
<line x1="52.35" y1="399.07" x2="54.75" y2="399.07"/>
<line x1="257.30" y1="399.07" x2="254.90" y2="399.07"/>
<line x1="216.31" y1="509.05" x2="216.31" y2="506.65"/>
<line x1="216.31" y1="325.75" x2="216.31" y2="328.15"/>
<line x1="52.35" y1="362.41" x2="54.75" y2="362.41"/>
<line x1="257.30" y1="362.41" x2="254.90" y2="362.41"/>
<line x1="257.30" y1="509.05" x2="257.30" y2="506.65"/>
<line x1="257.30" y1="325.75" x2="257.30" y2="328.15"/>
<line x1="52.35" y1="325.75" x2="54.75" y2="325.75"/>
<line x1="257.30" y1="325.75" x2="254.90" y2="325.75"/>
<rect x="52.35" y="325.75" width="204.95" height="183.30" fill="none" stroke-width="1.5" stroke="#1e1e1e"/></g>
<g fill="#262626"><text x="52.35" y="529.55" font-size="16.00" text-anchor="middle" >40</text>
<text x="46.95" y="515.35" font-size="16.00" text-anchor="end" >40</text>
<text x="93.34" y="529.55" font-size="16.00" text-anchor="middle" >60</text>
<text x="46.95" y="478.69" font-size="16.00" text-anchor="end" >60</text>
<text x="134.33" y="529.55" font-size="16.00" text-anchor="middle" >80</text>
<text x="46.95" y="442.03" font-size="16.00" text-anchor="end" >80</text>
<text x="175.32" y="529.55" font-size="16.00" text-anchor="middle" >100</text>
<text x="46.95" y="405.37" font-size="16.00" text-anchor="end" >100</text>
<text x="216.31" y="529.55" font-size="16.00" text-anchor="middle" >120</text>
<text x="46.95" y="368.71" font-size="16.00" text-anchor="end" >120</text>
<text x="257.30" y="529.55" font-size="16.00" text-anchor="middle" >140</text>
<text x="46.95" y="332.05" font-size="16.00" text-anchor="end" >140</text></g>
<g fill="#262626"><rect x="277.50" y="325.000" width="16.90" height="3.492" fill="#800000"/>
<rect x="277.50" y="327.892" width="16.90" height="3.492" fill="#8f0000"/>
<rect x="277.50" y="330.784" width="16.90" height="3.492" fill="#9f0000"/>
<rect x="277.50" y="333.677" width="16.90" height="3.492" fill="#af0000"/>
<rect x="277.50" y="336.569" width="16.90" height="3.492" fill="#bf0000"/>
<rect x="277.50" y="339.461" width="16.90" height="3.492" fill="#cf0000"/>
<rect x="277.50" y="342.353" width="16.90" height="3.492" fill="#df0000"/>
<rect x="277.50" y="345.245" width="16.90" height="3.492" fill="#ef0000"/>
<rect x="277.50" y="348.138" width="16.90" height="3.492" fill="#ff0000"/>
<rect x="277.50" y="351.030" width="16.90" height="3.492" fill="#ff1000"/>
<rect x="277.50" y="353.922" width="16.90" height="3.492" fill="#ff2000"/>
<rect x="277.50" y="356.814" width="16.90" height="3.492" fill="#ff3000"/>
<rect x="277.50" y="359.706" width="16.90" height="3.492" fill="#ff4000"/>
<rect x="277.50" y="362.598" width="16.90" height="3.492" fill="#ff5000"/>
<rect x="277.50" y="365.491" width="16.90" height="3.492" fill="#ff6000"/>
<rect x="277.50" y="368.383" width="16.90" height="3.492" fill="#ff7000"/>
<rect x="277.50" y="371.275" width="16.90" height="3.492" fill="#ff8000"/>
<rect x="277.50" y="374.167" width="16.90" height="3.492" fill="#ff8f00"/>
<rect x="277.50" y="377.059" width="16.90" height="3.492" fill="#ff9f00"/>
<rect x="277.50" y="379.952" width="16.90" height="3.492" fill="#ffaf00"/>
<rect x="277.50" y="382.844" width="16.90" height="3.492" fill="#ffbf00"/>
<rect x="277.50" y="385.736" width="16.90" height="3.492" fill="#ffcf00"/>
<rect x="277.50" y="388.628" width="16.90" height="3.492" fill="#ffdf00"/>
<rect x="277.50" y="391.520" width="16.90" height="3.492" fill="#ffef00"/>
<rect x="277.50" y="394.413" width="16.90" height="3.492" fill="#ffff00"/>
<rect x="277.50" y="397.305" width="16.90" height="3.492" fill="#efff10"/>
<rect x="277.50" y="400.197" width="16.90" height="3.492" fill="#dfff20"/>
<rect x="277.50" y="403.089" width="16.90" height="3.492" fill="#cfff30"/>
<rect x="277.50" y="405.981" width="16.90" height="3.492" fill="#bfff40"/>
<rect x="277.50" y="408.873" width="16.90" height="3.492" fill="#afff50"/>
<rect x="277.50" y="411.766" width="16.90" height="3.492" fill="#9fff60"/>
<rect x="277.50" y="414.658" width="16.90" height="3.492" fill="#8fff70"/>
<rect x="277.50" y="417.550" width="16.90" height="3.492" fill="#80ff80"/>
<rect x="277.50" y="420.442" width="16.90" height="3.492" fill="#70ff8f"/>
<rect x="277.50" y="423.334" width="16.90" height="3.492" fill="#60ff9f"/>
<rect x="277.50" y="426.227" width="16.90" height="3.492" fill="#50ffaf"/>
<rect x="277.50" y="429.119" width="16.90" height="3.492" fill="#40ffbf"/>
<rect x="277.50" y="432.011" width="16.90" height="3.492" fill="#30ffcf"/>
<rect x="277.50" y="434.903" width="16.90" height="3.492" fill="#20ffdf"/>
<rect x="277.50" y="437.795" width="16.90" height="3.492" fill="#10ffef"/>
<rect x="277.50" y="440.688" width="16.90" height="3.492" fill="#00ffff"/>
<rect x="277.50" y="443.580" width="16.90" height="3.492" fill="#00efff"/>
<rect x="277.50" y="446.472" width="16.90" height="3.492" fill="#00dfff"/>
<rect x="277.50" y="449.364" width="16.90" height="3.492" fill="#00cfff"/>
<rect x="277.50" y="452.256" width="16.90" height="3.492" fill="#00bfff"/>
<rect x="277.50" y="455.148" width="16.90" height="3.492" fill="#00afff"/>
<rect x="277.50" y="458.041" width="16.90" height="3.492" fill="#009fff"/>
<rect x="277.50" y="460.933" width="16.90" height="3.492" fill="#008fff"/>
<rect x="277.50" y="463.825" width="16.90" height="3.492" fill="#0080ff"/>
<rect x="277.50" y="466.717" width="16.90" height="3.492" fill="#0070ff"/>
<rect x="277.50" y="469.609" width="16.90" height="3.492" fill="#0060ff"/>
<rect x="277.50" y="472.502" width="16.90" height="3.492" fill="#0050ff"/>
<rect x="277.50" y="475.394" width="16.90" height="3.492" fill="#0040ff"/>
<rect x="277.50" y="478.286" width="16.90" height="3.492" fill="#0030ff"/>
<rect x="277.50" y="481.178" width="16.90" height="3.492" fill="#0020ff"/>
<rect x="277.50" y="484.070" width="16.90" height="3.492" fill="#0010ff"/>
<rect x="277.50" y="486.963" width="16.90" height="3.492" fill="#0000ff"/>
<rect x="277.50" y="489.855" width="16.90" height="3.492" fill="#0000ef"/>
<rect x="277.50" y="492.747" width="16.90" height="3.492" fill="#0000df"/>
<rect x="277.50" y="495.639" width="16.90" height="3.492" fill="#0000cf"/>
<rect x="277.50" y="498.531" width="16.90" height="3.492" fill="#0000bf"/>
<rect x="277.50" y="501.423" width="16.90" height="3.492" fill="#0000af"/>
<rect x="277.50" y="504.316" width="16.90" height="3.492" fill="#00009f"/>
<rect x="277.50" y="507.208" width="16.90" height="2.892" fill="#00008f"/>
<rect x="277.50" y="325.00" width="16.90" height="185.10" fill="none" stroke="#262626" stroke-width="0.5" stroke-opacity="0.6"/>
<line x1="294.40" y1="510.10" x2="292.20" y2="510.10" stroke="#262626" stroke-width="1"/>
<text transform="translate(299.20,515.50) scale(0.9,1)" font-size="15.7">0</text>
<line x1="294.40" y1="448.03" x2="292.20" y2="448.03" stroke="#262626" stroke-width="1"/>
<text transform="translate(299.20,453.43) scale(0.9,1)" font-size="15.7">50</text>
<line x1="294.40" y1="385.96" x2="292.20" y2="385.96" stroke="#262626" stroke-width="1"/>
<text transform="translate(299.20,391.36) scale(0.9,1)" font-size="15.7">100</text></g>
<g fill="none" stroke-width="0.8" stroke-linejoin="round"><path d="M511.5 449.8l-4.1-0.8 -3.4-1.1 -3.4-1.4 -3.5-1.9 -3-2.2 -2.4-2.3 -2.3-2.6 -2-3 -1.5-3.1 -1.1-3.1 -0.8-3.6 -0.4-3.7 0.1-3.6 0.5-3.7 0.9-3.7 1.4-3.6 1.6-3.1 1.9-3.1 2.4-2.8 2.7-2.7 3-2.4 3.1-2.1 3.5-1.8 4.1-1.6 4.1-1.2 3.4-0.6 4.1-0.5 4.1 0 4.1 0.3 4.1 0.7 3.4 1 3.4 1.4 2.7 1.4 2.8 1.7 2.3 1.9 1.9 1.8 1.9 2.2 1.5 2.1 1.4 2.5 1.3 3 0.8 2.5 0.7 3 0.3 3.1 0 3 -0.2 3.1 -0.6 3 -0.8 3.1 -1.2 3 -2.7 4.9 -1.8 2.5 -2.2 2.4 -1.9 1.9 -2.8 2.2 -2.7 1.9 -2.7 1.5 -2.8 1.3 -3.4 1.2 -3.4 1 -3.4 0.6 -3.4 0.4 -3.5 0.2 -6.1-0.5" stroke="#0000bf"/>
<path d="M512.2 463.2l-5.7-0.6 -5.7-1.3 -5-1.6 -4.8-2.1 -4.1-2.4 -4.1-3.1 -3.7-3.6 -3.1-4 -2.7-4.5 -1.8-4.3 -1.5-4.9 -0.9-5.5 -0.2-4.9 0.4-5.5 1-5.5 1.5-4.9 2-4.9 2.4-4.2 3.1-4.3 3.3-3.7 3.6-3.3 4.1-3.1 4.7-2.8 4.9-2.2 5.4-1.9 5.5-1.4 5.5-0.9 6.1-0.4 6.2 0.1 5.4 0.6 5.5 1.1 4.8 1.5 4.1 1.7 3.5 1.8 3.3 2.2 3.4 2.8 3.1 3 2.4 3 2 3.1 2.1 4 1.5 3.9 1.1 4.3 0.7 4.3 0.3 4.3 -0.1 4.3 -0.5 4.2 -0.9 4.3 -1.3 4.3 -1.5 3.6 -2 4 -2.2 3.4 -2.6 3.4 -2.8 2.9 -3 2.8 -3.2 2.5 -4 2.6 -4.1 2.1 -4.1 1.7 -4.4 1.5 -4.5 1.2 -4.1 0.7 -4.8 0.6 -4.7 0.2 -4.8-0.2" stroke="#0000ff"/>
<path d="M510.8 473.0l-7.5-0.8 -6.8-1.4 -6.2-1.9 -6.1-2.7 -5.2-3 -4.8-3.7 -4.3-4.3 -3.5-4.5 -3-5.2 -2.5-5.9 -1.6-5.8 -1-6.7 -0.3-6.7 0.5-6.7 1.3-6.7 2-6.8 2.6-5.7 3-5.3 3.5-4.8 4-4.3 4.5-4 4.8-3.4 5.4-3.1 6.2-2.7 6.1-2.1 6.9-1.7 6.8-1 7.5-0.5 7.5 0.2 6.9 0.7 6.8 1.4 6.1 1.9 4.9 2.1 4.7 2.5 4.1 2.8 3.8 3.2 3.5 3.7 2.8 3.6 2.6 4.3 2 4.3 1.7 4.9 1.2 4.9 0.8 5.5 0.2 5.5 -0.2 5.5 -0.7 5.5 -1.3 5.5 -1.6 4.9 -2.1 4.8 -2.3 4.3 -2.8 4.3 -2.8 3.5 -3.4 3.6 -3.5 3.1 -4.1 3 -4 2.6 -4.8 2.4 -4.7 2 -4.9 1.6 -5.5 1.4 -5.4 1.1 -6.2 0.7 -6.1 0.2 -5.5-0.1" stroke="#0030ff"/>
<path d="M508.8 480.9l-8.2-0.8 -8.2-1.7 -7.5-2.3 -6.9-3 -6.1-3.7 -5.5-4.3 -2.6-2.5 -2.2-2.5 -3.6-4.9 -3.3-6.1 -2.6-6.8 -1.9-7.2 -1-8 -0.1-4.3 0.1-4.2 0.8-8 1.7-7.9 2.4-7.3 2.9-6.2 3.3-5.5 4.1-5.5 4.7-4.9 5.5-4.6 6-3.9 6.3-3.3 6.8-2.7 7.5-2.2 8.2-1.7 8.2-1 8.9-0.3 8.2 0.4 8.2 1.1 7.5 1.7 6.9 2.3 5.4 2.5 4.8 2.8 4.8 3.4 4.1 3.7 3.4 3.9 3.3 4.7 2.7 4.9 2 4.9 1.7 5.5 1.3 6.1 0.7 6.1 0.2 6.7 -0.5 6.7 -1 6.1 -1.5 6.1 -2.1 6.1 -2.2 4.9 -2.7 4.9 -2.9 4.3 -3.5 4.3 -3.7 3.7 -4.2 3.6 -4.7 3.3 -4.8 2.8 -5.4 2.7 -5.5 2.1 -6.1 1.9 -6.2 1.4 -6.6 1.1 -6.4 0.6 -6.8 0.2 -6.1-0.2" stroke="#0070ff"/>
<path d="M505.3 487.7l-9.5-1.2 -8.9-2 -8.2-2.7 -3.6-1.5 -3.7-1.9 -3.6-2.1 -3.2-2.1 -3-2.4 -2.7-2.5 -2.4-2.5 -2.4-2.8 -2-2.9 -2.1-3.2 -2-3.9 -1.6-3.7 -1.4-3.6 -1.2-4.3 -1-4.3 -0.7-4.3 -0.4-4.2 -0.3-4.9 0-4.3 0.3-4.9 0.5-4.9 0.8-4.2 0.9-4.3 1.3-4.7 1.4-4 1.7-4.2 3.5-6.7 4-6.1 4.7-5.5 5.2-5 6.2-4.6 6.5-3.8 7.1-3.3 8.1-2.8 9-2.3 8.9-1.5 9.6-0.8 9.5 0 9.6 0.7 8.9 1.5 8.2 2.2 7.5 2.8 5.6 2.9 5.3 3.3 4.8 3.9 4.1 4.2 3.5 4.4 3.3 5.4 2.7 5.6 2.1 5.9 1.6 6.4 1.1 7.3 0.4 7.3 -0.2 7.4 -0.8 7.3 -1.4 7.1 -2 6.9 -2.5 6.2 -2.7 5.5 -3.1 4.9 -3.6 4.8 -3.9 4.3 -4.1 3.8 -4.6 3.5 -4.9 3.2 -5.5 2.9 -5.8 2.5 -6.5 2.3 -6.8 1.8 -6.9 1.4 -6.8 0.9 -7.5 0.6 -7.5 0.1 -6.9-0.3" stroke="#009fff"/>
<path d="M504.7 493.7l-5.5-0.4 -5.5-0.8 -9.5-2 -4.8-1.3 -4.1-1.5 -4.1-1.7 -4.1-1.9 -3.4-2 -3.4-2.2 -3.5-2.6 -2.8-2.5 -3-3.1 -2.6-3 -2.5-3.5 -2-3.2 -2.1-4 -1.7-4 -1.6-4.3 -1.4-4.9 -1-4.8 -0.8-4.9 -0.4-4.9 -0.3-4.9 0.1-4.9 0.3-5.5 0.6-5.5 0.8-4.9 1.1-4.9 1.4-4.9 1.5-4.5 2-4.6 3.8-7.4 4.5-6.6 4.8-5.6 2.7-2.7 3.2-2.8 6.4-4.6 6.8-3.9 8.2-3.7 8.2-2.7 9.6-2.4 10.4-1.6 10.7-0.8 11 0 10.2 0.8 9.6 1.6 8.9 2.3 4.1 1.5 4.1 1.7 6.1 3.1 5.5 3.5 4.9 4 4.6 4.8 3.9 5 3.3 5.5 2.8 6.1 2.2 6.7 1.8 7.3 1 8 0.4 7.9 -0.2 8 -0.9 7.9 -1.6 8 -2.1 7.3 -2.9 7.3 -2.9 5.7 -3.3 5.3 -3.6 4.9 -4 4.4 -4.5 4.2 -4.8 3.6 -5.7 3.7 -5.5 2.8 -6.2 2.7 -7.2 2.4 -7.1 1.9 -7.5 1.5 -7.5 1 -8.2 0.7 -8.2 0.1 -7.5-0.3" stroke="#00dfff"/>
<path d="M504.0 499.2l-6.2-0.5 -5.4-0.7 -10.3-1.9 -4.8-1.3 -4.7-1.6 -4.8-1.9 -4.1-1.9 -4.1-2.2 -3.4-2.2 -3.5-2.5 -3.4-2.9 -3.4-3.5 -2.7-3.1 -2.6-3.7 -2.2-3.6 -2.3-4.4 -1.8-4.2 -1.7-4.9 -1.4-4.9 -1-4.9 -0.9-5.5 -0.5-5.5 -0.3-5.5 0.1-5.5 0.3-6.1 0.6-5.5 1.1-6.1 1.2-5.5 1.5-5.5 1.7-4.9 2-4.7 3.9-7.5 4.5-6.7 5.3-6.2 3.1-3 3-2.6 3.5-2.6 3.4-2.3 7.5-4.2 8.2-3.6 9.5-3.2 10.3-2.4 11.6-1.7 11.6-0.8 11.6 0 11 0.9 5.4 0.8 5.5 1 4.8 1.2 4.8 1.4 4.6 1.6 4.2 1.8 6.2 3.1 6.1 4.1 5.3 4.4 4.6 4.9 4.1 5.5 3.4 6.1 2.9 6.8 2.2 6.7 1.7 7.9 1.1 8.6 0.3 8.5 -0.3 9.2 -1.1 8.5 -1.7 8.6 -2.3 7.9 -3.1 7.8 -2.8 5.7 -3.4 5.5 -4 5.3 -4.1 4.6 -4.8 4.3 -5.4 4.1 -5.5 3.5 -6.2 3.1 -6.8 2.9 -6.8 2.3 -7.6 1.9 -8.2 1.7 -8.2 1.1 -8.8 0.7 -8.9 0.2 -8.2-0.3" stroke="#10ffef"/>
<path d="M501.9 504.1l-6.1-0.5 -6.2-0.8 -6.1-1 -5.5-1.2 -5.4-1.6 -4.8-1.6 -4.6-1.8 -4.3-2.1 -4.1-2.3 -4.1-2.7 -3.6-2.7 -3.2-2.9 -3.1-3.2 -3-3.7 -2.6-3.7 -2.3-3.8 -2.3-4.7 -2-4.9 -1.6-4.9 -1.5-5.5 -1-5.5 -0.9-6.1 -0.5-6.1 -0.1-6.1 0.1-6.7 0.5-6.1 0.8-6.2 1.1-6.1 1.4-6.1 1.6-5.5 2-5.5 2.2-4.9 2.2-4.2 2.1-3.7 4.8-6.8 3.1-3.6 2.9-3.1 6.3-5.4 3.5-2.5 3.9-2.4 4.2-2.4 3.9-1.9 9.1-3.7 9.6-2.9 6-1.4 5.6-1 12.3-1.6 6.1-0.5 6.9-0.2 12.3 0.2 11.6 1.1 5.4 0.8 5.5 1.1 5.5 1.4 4.7 1.4 4.4 1.6 4.5 1.9 6.9 3.7 6.1 4.2 5.5 4.8 4.4 5 4.3 6.1 3.3 6.1 3 7.3 2.2 7.4 1.7 8.5 1 9.2 0.3 9.8 -0.5 9.7 -1.3 9.8 -2 9.2 -2.6 8.5 -3.3 8 -3.2 6.1 -3.6 5.5 -3.8 4.9 -4.7 5 -4.8 4.2 -5.8 4.2 -5.8 3.5 -6.6 3.2 -7.1 2.8 -7.5 2.4 -8.2 2 -8.9 1.7 -8.8 1.1 -8.9 0.6 -9.6 0.2 -8.9-0.4" stroke="#50ffaf"/>
<path d="M508.2 509.0l-10.4-0.5 -10.2-1.1 -9.6-1.8 -8.9-2.3 -8.2-2.9 -7.5-3.6 -6.1-3.8 -6.1-4.8 -4.9-4.9 -2.5-3 -2.2-3.1 -4-6.7 -3.3-7.3 -2.6-8 -2-8.5 -1.2-9.2 -0.6-9.2M417.9 421.4l0.7-10.8 1.6-11 1.1-5.2 1.4-5.2 3.1-9.1 1.8-4.3 2.1-4.3 2-3.6 2.6-4.1 2.7-3.8 2.8-3.3 2.7-2.9 3.4-3.3 3.4-2.8 3.4-2.6 3.6-2.3 4.2-2.4 4.5-2.4 4.1-1.8 9.6-3.5 10.2-2.7 11.7-2.2 12.3-1.5 12-0.6M622.8 413.3l-0.6 10.8 -1.6 11 -1.2 5.2 -1.3 5.2 -3.1 9.1 -1.8 4.3 -2.1 4.3 -2 3.6 -2.6 4.1 -2.8 3.8 -2.7 3.3 -2.7 2.9 -3.5 3.3 -3.3 2.8 -3.5 2.6 -3.5 2.3 -4.2 2.4 -4.6 2.4 -4.1 1.8 -9.6 3.5 -10.2 2.7 -11.6 2.2 -12.3 1.5 -12.1 0.6M532.6 325.7l10.3 0.5 10.3 1.1 9.5 1.8 8.9 2.3 8.2 2.9 7.5 3.6 6.2 3.8 6 4.8 4.9 4.9 2.6 3 2.2 3.1 4 6.7 3.3 7.3 2.6 8 1.9 8.5 1.3 9.2 0.5 9.2" stroke="#8fff70"/>
<path d="M472.2 509.0l-5.1-1.4 -5.2-1.7 -4.8-1.8 -4.4-2 -4.3-2.3 -3.9-2.3 -3.5-2.6 -3.7-3 -3.2-3.1 -3.2-3.5 -2.8-3.6 -2.5-3.9 -2.2-3.9 -2.1-4.2 -1.9-4.7 -1.5-4.5M622.8 446.6l-1.8 6.2 -2.3 6.1 -2.5 5.5 -2.9 5.4 -3.2 5 -3.6 4.8 -4 4.3 -3.8 3.7 -4.4 3.7 -4.9 3.4 -4.8 2.9 -5.6 2.8 -6 2.6 -6.2 2.3 -6.8 2 -6.9 1.7M417.9 388.1l1.9-6.2 2.3-6.1 2.5-5.5 2.9-5.4 3.2-5 3.6-4.8 3.9-4.3 3.8-3.7 4.5-3.7 4.9-3.4 4.8-2.9 5.5-2.8 6.1-2.6 6.1-2.3 6.9-2 6.9-1.7M568.6 325.7l5.1 1.4 5.2 1.7 4.7 1.8 4.4 2 4.4 2.3 3.8 2.3 3.6 2.6 3.7 3 3.2 3.1 3.2 3.5 2.7 3.6 2.6 3.9 2.2 3.9 2 4.2 1.9 4.7 1.5 4.5" stroke="#bfff40"/>
<path d="M456.9 509.0l-6.9-2.9 -6-3.2 -5.6-3.7 -4.8-3.8 -4.8-4.7 -4-4.9 -3.6-5.5 -3.3-6.2M622.8 461.2l-1.9 4.4 -2.1 4.3 -2.5 4.3 -2.3 3.6 -2.8 3.7 -2.5 3.1 -2.9 3.1 -3.2 3 -3.6 3 -3.3 2.5 -3.6 2.4 -4.2 2.5 -4 2.1 -4.8 2.2 -9.7 3.6M417.9 373.5l1.9-4.4 2.2-4.3 2.4-4.3 2.4-3.6 2.7-3.7 2.6-3.1 2.9-3.1 3.1-3 3.7-3 3.2-2.5 3.7-2.4 4.1-2.5 4-2.1 4.8-2.2 9.8-3.6M583.8 325.7l6.9 2.9 6.1 3.2 5.6 3.7 4.7 3.8 4.8 4.7 4 4.9 3.7 5.5 3.2 6.2" stroke="#ffff00"/>
<path d="M445.7 509.0l-4.6-2.4 -4.1-2.6 -4-2.9 -3.5-3 -3.3-3.2 -2.8-3.2 -2.8-3.5 -2.7-4.1M622.8 472.0l-3.4 5.9 -4.2 6 -4.6 5.5 -4.8 4.7 -5.5 4.4 -5.6 3.8 -6.6 3.6 -6.7 3.1M417.9 362.7l3.4-5.9 4.1-5.9 4.3-5 4.9-4.9 5.2-4.3 6.1-4.2 6.8-3.7 6.6-3.1M595.0 325.7l4.6 2.4 4 2.5 3.5 2.5 3.6 3 3.3 3.1 3.3 3.6 2.8 3.7 2.7 4.1" stroke="#ffcf00"/>
<path d="M436.7 509.0l-5.5-3.7 -5.1-4.1 -4.4-4.4 -3.8-4.6M622.8 480.8l-3 4.4 -3.1 4 -3.5 3.9 -3.8 3.7 -4.3 3.5 -4.1 3 -4.8 3 -4.9 2.7M417.9 353.9l3-4.4 3.4-4.2 3.3-3.7 4-3.8 4.1-3.4 4.3-3.2 4.5-2.8 5-2.7M604.1 325.7l5.1 3.4 4.9 3.9 4.7 4.6 4 4.9" stroke="#ff8f00"/>
<path d="M428.9 509.0l-5.5-4.4 -5.5-5.5M622.8 488.3l-4.7 5.8 -5.5 5.5 -6.1 4.9 -6.8 4.5M417.9 346.4l4.8-5.8 5.4-5.5 6.2-4.9 6.8-4.5M611.8 325.7l6.1 4.9 4.9 5" stroke="#ff6000"/>
<path d="M422.1 509.0l-4.2-3.8M622.8 494.8l-3.4 3.8 -3.8 3.7 -4.4 3.6 -4.2 3.1M417.9 339.9l3.4-3.8 3.8-3.7 4.4-3.6 4.2-3.1M618.6 325.7l4.2 3.8" stroke="#ff2000"/>
<path d="M622.8 500.7l-4 4 -5.2 4.3M417.9 334.0l4.8-4.6 4.5-3.7" stroke="#ef0000"/>
<path d="M622.8 506.1l-3.2 2.9M417.9 328.6l3.3-2.9" stroke="#af0000"/></g>
<circle cx="520.38" cy="417.35" r="2.45" fill="none" stroke="#ff0000" stroke-width="1.5"/>
<g stroke="#262626" stroke-width="1.0"><line x1="417.90" y1="509.00" x2="417.90" y2="506.60"/>
<line x1="417.90" y1="325.70" x2="417.90" y2="328.10"/>
<line x1="417.90" y1="509.00" x2="420.30" y2="509.00"/>
<line x1="622.85" y1="509.00" x2="620.45" y2="509.00"/>
<line x1="458.89" y1="509.00" x2="458.89" y2="506.60"/>
<line x1="458.89" y1="325.70" x2="458.89" y2="328.10"/>
<line x1="417.90" y1="472.34" x2="420.30" y2="472.34"/>
<line x1="622.85" y1="472.34" x2="620.45" y2="472.34"/>
<line x1="499.88" y1="509.00" x2="499.88" y2="506.60"/>
<line x1="499.88" y1="325.70" x2="499.88" y2="328.10"/>
<line x1="417.90" y1="435.68" x2="420.30" y2="435.68"/>
<line x1="622.85" y1="435.68" x2="620.45" y2="435.68"/>
<line x1="540.87" y1="509.00" x2="540.87" y2="506.60"/>
<line x1="540.87" y1="325.70" x2="540.87" y2="328.10"/>
<line x1="417.90" y1="399.02" x2="420.30" y2="399.02"/>
<line x1="622.85" y1="399.02" x2="620.45" y2="399.02"/>
<line x1="581.86" y1="509.00" x2="581.86" y2="506.60"/>
<line x1="581.86" y1="325.70" x2="581.86" y2="328.10"/>
<line x1="417.90" y1="362.36" x2="420.30" y2="362.36"/>
<line x1="622.85" y1="362.36" x2="620.45" y2="362.36"/>
<line x1="622.85" y1="509.00" x2="622.85" y2="506.60"/>
<line x1="622.85" y1="325.70" x2="622.85" y2="328.10"/>
<line x1="417.90" y1="325.70" x2="420.30" y2="325.70"/>
<line x1="622.85" y1="325.70" x2="620.45" y2="325.70"/>
<rect x="417.90" y="325.70" width="204.95" height="183.30" fill="none" stroke-width="1.5" stroke="#1e1e1e"/></g>
<g fill="#262626"><text x="417.90" y="529.50" font-size="16.00" text-anchor="middle" >40</text>
<text x="412.50" y="515.30" font-size="16.00" text-anchor="end" >40</text>
<text x="458.89" y="529.50" font-size="16.00" text-anchor="middle" >60</text>
<text x="412.50" y="478.64" font-size="16.00" text-anchor="end" >60</text>
<text x="499.88" y="529.50" font-size="16.00" text-anchor="middle" >80</text>
<text x="412.50" y="441.98" font-size="16.00" text-anchor="end" >80</text>
<text x="540.87" y="529.50" font-size="16.00" text-anchor="middle" >100</text>
<text x="412.50" y="405.32" font-size="16.00" text-anchor="end" >100</text>
<text x="581.86" y="529.50" font-size="16.00" text-anchor="middle" >120</text>
<text x="412.50" y="368.66" font-size="16.00" text-anchor="end" >120</text>
<text x="622.85" y="529.50" font-size="16.00" text-anchor="middle" >140</text>
<text x="412.50" y="332.00" font-size="16.00" text-anchor="end" >140</text></g>
<g fill="#262626"><rect x="643.00" y="325.000" width="16.90" height="3.492" fill="#800000"/>
<rect x="643.00" y="327.892" width="16.90" height="3.492" fill="#8f0000"/>
<rect x="643.00" y="330.784" width="16.90" height="3.492" fill="#9f0000"/>
<rect x="643.00" y="333.677" width="16.90" height="3.492" fill="#af0000"/>
<rect x="643.00" y="336.569" width="16.90" height="3.492" fill="#bf0000"/>
<rect x="643.00" y="339.461" width="16.90" height="3.492" fill="#cf0000"/>
<rect x="643.00" y="342.353" width="16.90" height="3.492" fill="#df0000"/>
<rect x="643.00" y="345.245" width="16.90" height="3.492" fill="#ef0000"/>
<rect x="643.00" y="348.138" width="16.90" height="3.492" fill="#ff0000"/>
<rect x="643.00" y="351.030" width="16.90" height="3.492" fill="#ff1000"/>
<rect x="643.00" y="353.922" width="16.90" height="3.492" fill="#ff2000"/>
<rect x="643.00" y="356.814" width="16.90" height="3.492" fill="#ff3000"/>
<rect x="643.00" y="359.706" width="16.90" height="3.492" fill="#ff4000"/>
<rect x="643.00" y="362.598" width="16.90" height="3.492" fill="#ff5000"/>
<rect x="643.00" y="365.491" width="16.90" height="3.492" fill="#ff6000"/>
<rect x="643.00" y="368.383" width="16.90" height="3.492" fill="#ff7000"/>
<rect x="643.00" y="371.275" width="16.90" height="3.492" fill="#ff8000"/>
<rect x="643.00" y="374.167" width="16.90" height="3.492" fill="#ff8f00"/>
<rect x="643.00" y="377.059" width="16.90" height="3.492" fill="#ff9f00"/>
<rect x="643.00" y="379.952" width="16.90" height="3.492" fill="#ffaf00"/>
<rect x="643.00" y="382.844" width="16.90" height="3.492" fill="#ffbf00"/>
<rect x="643.00" y="385.736" width="16.90" height="3.492" fill="#ffcf00"/>
<rect x="643.00" y="388.628" width="16.90" height="3.492" fill="#ffdf00"/>
<rect x="643.00" y="391.520" width="16.90" height="3.492" fill="#ffef00"/>
<rect x="643.00" y="394.413" width="16.90" height="3.492" fill="#ffff00"/>
<rect x="643.00" y="397.305" width="16.90" height="3.492" fill="#efff10"/>
<rect x="643.00" y="400.197" width="16.90" height="3.492" fill="#dfff20"/>
<rect x="643.00" y="403.089" width="16.90" height="3.492" fill="#cfff30"/>
<rect x="643.00" y="405.981" width="16.90" height="3.492" fill="#bfff40"/>
<rect x="643.00" y="408.873" width="16.90" height="3.492" fill="#afff50"/>
<rect x="643.00" y="411.766" width="16.90" height="3.492" fill="#9fff60"/>
<rect x="643.00" y="414.658" width="16.90" height="3.492" fill="#8fff70"/>
<rect x="643.00" y="417.550" width="16.90" height="3.492" fill="#80ff80"/>
<rect x="643.00" y="420.442" width="16.90" height="3.492" fill="#70ff8f"/>
<rect x="643.00" y="423.334" width="16.90" height="3.492" fill="#60ff9f"/>
<rect x="643.00" y="426.227" width="16.90" height="3.492" fill="#50ffaf"/>
<rect x="643.00" y="429.119" width="16.90" height="3.492" fill="#40ffbf"/>
<rect x="643.00" y="432.011" width="16.90" height="3.492" fill="#30ffcf"/>
<rect x="643.00" y="434.903" width="16.90" height="3.492" fill="#20ffdf"/>
<rect x="643.00" y="437.795" width="16.90" height="3.492" fill="#10ffef"/>
<rect x="643.00" y="440.688" width="16.90" height="3.492" fill="#00ffff"/>
<rect x="643.00" y="443.580" width="16.90" height="3.492" fill="#00efff"/>
<rect x="643.00" y="446.472" width="16.90" height="3.492" fill="#00dfff"/>
<rect x="643.00" y="449.364" width="16.90" height="3.492" fill="#00cfff"/>
<rect x="643.00" y="452.256" width="16.90" height="3.492" fill="#00bfff"/>
<rect x="643.00" y="455.148" width="16.90" height="3.492" fill="#00afff"/>
<rect x="643.00" y="458.041" width="16.90" height="3.492" fill="#009fff"/>
<rect x="643.00" y="460.933" width="16.90" height="3.492" fill="#008fff"/>
<rect x="643.00" y="463.825" width="16.90" height="3.492" fill="#0080ff"/>
<rect x="643.00" y="466.717" width="16.90" height="3.492" fill="#0070ff"/>
<rect x="643.00" y="469.609" width="16.90" height="3.492" fill="#0060ff"/>
<rect x="643.00" y="472.502" width="16.90" height="3.492" fill="#0050ff"/>
<rect x="643.00" y="475.394" width="16.90" height="3.492" fill="#0040ff"/>
<rect x="643.00" y="478.286" width="16.90" height="3.492" fill="#0030ff"/>
<rect x="643.00" y="481.178" width="16.90" height="3.492" fill="#0020ff"/>
<rect x="643.00" y="484.070" width="16.90" height="3.492" fill="#0010ff"/>
<rect x="643.00" y="486.963" width="16.90" height="3.492" fill="#0000ff"/>
<rect x="643.00" y="489.855" width="16.90" height="3.492" fill="#0000ef"/>
<rect x="643.00" y="492.747" width="16.90" height="3.492" fill="#0000df"/>
<rect x="643.00" y="495.639" width="16.90" height="3.492" fill="#0000cf"/>
<rect x="643.00" y="498.531" width="16.90" height="3.492" fill="#0000bf"/>
<rect x="643.00" y="501.423" width="16.90" height="3.492" fill="#0000af"/>
<rect x="643.00" y="504.316" width="16.90" height="3.492" fill="#00009f"/>
<rect x="643.00" y="507.208" width="16.90" height="2.892" fill="#00008f"/>
<rect x="643.00" y="325.00" width="16.90" height="185.10" fill="none" stroke="#262626" stroke-width="0.5" stroke-opacity="0.6"/>
<line x1="659.90" y1="510.10" x2="657.70" y2="510.10" stroke="#262626" stroke-width="1"/>
<text transform="translate(664.70,515.50) scale(0.9,1)" font-size="15.7">0</text>
<line x1="659.90" y1="458.47" x2="657.70" y2="458.47" stroke="#262626" stroke-width="1"/>
<text transform="translate(664.70,463.87) scale(0.9,1)" font-size="15.7">20</text>
<line x1="659.90" y1="406.84" x2="657.70" y2="406.84" stroke="#262626" stroke-width="1"/>
<text transform="translate(664.70,412.24) scale(0.9,1)" font-size="15.7">40</text>
<line x1="659.90" y1="355.20" x2="657.70" y2="355.20" stroke="#262626" stroke-width="1"/>
<text transform="translate(664.70,360.60) scale(0.9,1)" font-size="15.7">60</text></g>
<g>
<g fill="#262626"><text transform="translate(82.74,230.08) scale(1.043,1)" font-size="17.22" >Joint Angle</text>
<text transform="translate(169.04,230.56) scale(1.229,1)" font-size="13.94" font-style="italic">θ</text>
<text transform="translate(178.27,238.70) scale(0.771,1)" font-size="13.33" >1</text>
<text transform="translate(189.58,230.15) scale(1.028,1)" font-size="16.89" >[deg]</text>
<text transform="rotate(-90) translate(-157.70,10.79) scale(1.035,1)" font-size="14.33" >Joint Angle</text>
<text transform="rotate(-90) translate(-85.37,10.26) scale(0.956,1)" font-size="13.94" font-style="italic">θ</text>
<text transform="rotate(-90) translate(-78.15,17.70) scale(0.975,1)" font-size="11.54" >2</text>
<text transform="rotate(-90) translate(-68.40,9.96) scale(1.022,1)" font-size="14.00" >[deg]</text>
<text transform="translate(448.24,230.08) scale(1.043,1)" font-size="17.22" >Joint Angle</text>
<text transform="translate(534.54,230.56) scale(1.229,1)" font-size="13.94" font-style="italic">θ</text>
<text transform="translate(543.77,238.70) scale(0.771,1)" font-size="13.33" >1</text>
<text transform="translate(555.08,230.15) scale(1.028,1)" font-size="16.89" >[deg]</text>
<text transform="rotate(-90) translate(-157.70,376.29) scale(1.035,1)" font-size="14.33" >Joint Angle</text>
<text transform="rotate(-90) translate(-85.37,375.76) scale(0.956,1)" font-size="13.94" font-style="italic">θ</text>
<text transform="rotate(-90) translate(-78.15,383.20) scale(0.975,1)" font-size="11.54" >2</text>
<text transform="rotate(-90) translate(-68.40,375.46) scale(1.022,1)" font-size="14.00" >[deg]</text>
<text transform="translate(82.74,550.08) scale(1.043,1)" font-size="17.22" >Joint Angle</text>
<text transform="translate(169.04,550.56) scale(1.229,1)" font-size="13.94" font-style="italic">θ</text>
<text transform="translate(178.27,558.70) scale(0.771,1)" font-size="13.33" >1</text>
<text transform="translate(189.58,550.15) scale(1.028,1)" font-size="16.89" >[deg]</text>
<text transform="rotate(-90) translate(-477.70,10.79) scale(1.035,1)" font-size="14.33" >Joint Angle</text>
<text transform="rotate(-90) translate(-405.37,10.26) scale(0.956,1)" font-size="13.94" font-style="italic">θ</text>
<text transform="rotate(-90) translate(-398.15,17.70) scale(0.975,1)" font-size="11.54" >2</text>
<text transform="rotate(-90) translate(-388.40,9.96) scale(1.022,1)" font-size="14.00" >[deg]</text>
<text transform="translate(448.24,550.08) scale(1.043,1)" font-size="17.22" >Joint Angle</text>
<text transform="translate(534.54,550.56) scale(1.229,1)" font-size="13.94" font-style="italic">θ</text>
<text transform="translate(543.77,558.70) scale(0.771,1)" font-size="13.33" >1</text>
<text transform="translate(555.08,550.15) scale(1.028,1)" font-size="16.89" >[deg]</text>
<text transform="rotate(-90) translate(-477.70,376.29) scale(1.035,1)" font-size="14.33" >Joint Angle</text>
<text transform="rotate(-90) translate(-405.37,375.76) scale(0.956,1)" font-size="13.94" font-style="italic">θ</text>
<text transform="rotate(-90) translate(-398.15,383.20) scale(0.975,1)" font-size="11.54" >2</text>
<text transform="rotate(-90) translate(-388.40,375.46) scale(1.022,1)" font-size="14.00" >[deg]</text></g>
<g fill="#000" stroke="#000" stroke-width="0.3"><text transform="translate(47.43,273.04) scale(0.966,1)" font-size="26.46" font-weight="bold">a</text>
<text transform="translate(72.53,272.81) scale(1.281,1)" font-size="19.01" font-weight="bold" font-style="italic">θ</text>
<text transform="translate(85.60,276.65) scale(1.131,1)" font-size="14.86" font-style="italic" stroke-width="0">d</text>
<rect x="102.60" y="265.75" width="13.4" height="1.15"/>
<rect x="102.60" y="269.80" width="13.4" height="1.15"/>
<text transform="translate(124.03,273.24) scale(0.906,1)" font-size="21.22" >(</text>
<text transform="translate(130.68,273.10) scale(1.022,1)" font-size="20.00" >60</text>
<text transform="translate(152.08,273.24) scale(0.738,1)" font-size="24.40" >,</text>
<text transform="translate(159.70,273.10) scale(1.005,1)" font-size="20.00" >60</text>
<text transform="translate(181.43,273.24) scale(0.743,1)" font-size="21.22" >)</text>
<text transform="translate(188.21,266.50) scale(1.342,1)" font-size="14.77" font-style="italic" stroke-width="0">T</text>
<text transform="translate(203.79,272.93) scale(0.919,1)" font-size="20.33" >[deg]</text>
<text transform="translate(414.36,275.66) scale(0.993,1)" font-size="24.29" font-weight="bold">b</text>
<text transform="translate(440.03,272.81) scale(1.281,1)" font-size="19.01" font-weight="bold" font-style="italic">θ</text>
<text transform="translate(453.10,276.65) scale(1.131,1)" font-size="14.86" font-style="italic" stroke-width="0">d</text>
<rect x="470.10" y="265.75" width="13.4" height="1.15"/>
<rect x="470.10" y="269.80" width="13.4" height="1.15"/>
<text transform="translate(491.53,273.24) scale(0.906,1)" font-size="21.22" >(</text>
<text transform="translate(498.18,273.10) scale(1.022,1)" font-size="20.00" >60</text>
<text transform="translate(519.58,273.24) scale(0.738,1)" font-size="24.40" >,</text>
<text transform="translate(527.40,273.10) scale(0.995,1)" font-size="20.00" >90</text>
<text transform="translate(548.93,273.24) scale(0.743,1)" font-size="21.22" >)</text>
<text transform="translate(555.71,266.50) scale(1.342,1)" font-size="14.77" font-style="italic" stroke-width="0">T</text>
<text transform="translate(571.29,272.93) scale(0.919,1)" font-size="20.33" >[deg]</text>
<text transform="translate(40.43,596.04) scale(1.001,1)" font-size="25.62" font-weight="bold">c</text>
<text transform="translate(66.83,592.91) scale(1.281,1)" font-size="19.01" font-weight="bold" font-style="italic">θ</text>
<text transform="translate(79.90,596.75) scale(1.131,1)" font-size="14.86" font-style="italic" stroke-width="0">d</text>
<rect x="96.90" y="585.85" width="13.4" height="1.15"/>
<rect x="96.90" y="589.90" width="13.4" height="1.15"/>
<text transform="translate(118.33,593.34) scale(0.906,1)" font-size="21.22" >(</text>
<text transform="translate(124.98,593.20) scale(1.022,1)" font-size="20.00" >60</text>
<text transform="translate(146.38,593.34) scale(0.738,1)" font-size="24.40" >,</text>
<text transform="translate(153.99,593.21) scale(1.019,1)" font-size="19.71" >120</text>
<text transform="translate(185.23,593.34) scale(0.743,1)" font-size="21.22" >)</text>
<text transform="translate(192.01,586.60) scale(1.342,1)" font-size="14.77" font-style="italic" stroke-width="0">T</text>
<text transform="translate(207.59,593.03) scale(0.919,1)" font-size="20.33" >[deg]</text>
<text transform="translate(416.08,596.35) scale(1.024,1)" font-size="25.00" font-weight="bold">d</text>
<text transform="translate(442.93,592.91) scale(1.281,1)" font-size="19.01" font-weight="bold" font-style="italic">θ</text>
<text transform="translate(456.00,596.75) scale(1.131,1)" font-size="14.86" font-style="italic" stroke-width="0">d</text>
<rect x="473.00" y="585.85" width="13.4" height="1.15"/>
<rect x="473.00" y="589.90" width="13.4" height="1.15"/>
<text transform="translate(494.43,593.34) scale(0.906,1)" font-size="21.22" >(</text>
<text transform="translate(501.29,593.20) scale(1.011,1)" font-size="20.00" >90</text>
<text transform="translate(522.48,593.34) scale(0.738,1)" font-size="24.40" >,</text>
<text transform="translate(530.30,593.20) scale(0.995,1)" font-size="20.00" >90</text>
<text transform="translate(551.83,593.34) scale(0.743,1)" font-size="21.22" >)</text>
<text transform="translate(558.61,586.60) scale(1.342,1)" font-size="14.77" font-style="italic" stroke-width="0">T</text>
<text transform="translate(574.19,593.03) scale(0.919,1)" font-size="20.33" >[deg]</text></g>
</g>
</svg>
</body></html>
